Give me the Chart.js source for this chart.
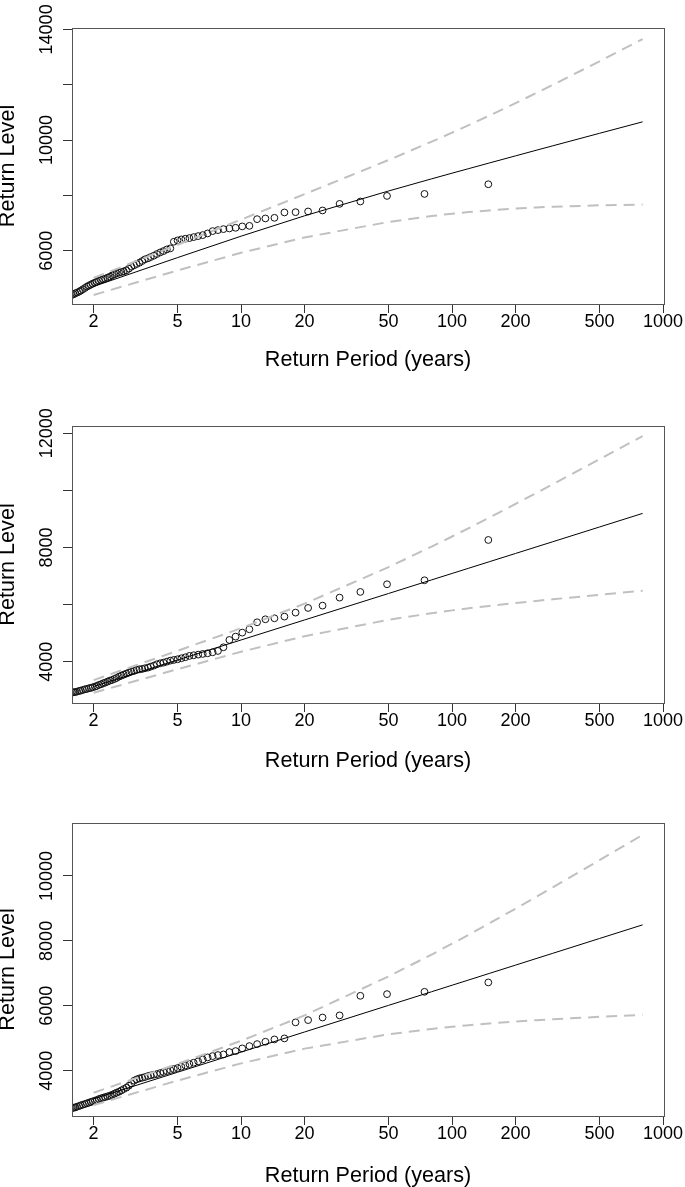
<!DOCTYPE html>
<html>
<head>
<meta charset="utf-8">
<script src="https://cdn.jsdelivr.net/npm/chart.js@4.4.1/dist/chart.umd.min.js"></script>
<style>
  body { margin: 0; background: #fff; }
  #wrap { position: relative; width: 685px; height: 1187px; overflow: hidden; }
  canvas { position: absolute; left: 0; }
</style>
</head>
<body>
<div id="wrap">
  <canvas id="rl1" width="685" height="380" style="top:0px"></canvas>
  <canvas id="rl2" width="685" height="389" style="top:390px"></canvas>
  <canvas id="rl3" width="685" height="397" style="top:790px"></canvas>
</div>
<script>
// empirical return periods (years), same for all three stations
const periods = [1.51, 1.545, 1.58, 1.61, 1.64, 1.67, 1.71, 1.74, 1.78, 1.82, 1.86, 1.90, 1.94, 1.98,
  2.03, 2.07, 2.12, 2.17, 2.22, 2.27, 2.33, 2.39, 2.45, 2.51, 2.57, 2.64, 2.71, 2.78, 2.86, 2.94,
  3.02, 3.11, 3.20, 3.30, 3.40, 3.50, 3.62, 3.73, 3.86, 3.99, 4.14, 4.29, 4.45, 4.62, 4.80, 5.00,
  5.21, 5.44, 5.69, 5.96, 6.26, 6.58, 6.94, 7.33, 7.77, 8.25, 8.80, 9.42, 10.13, 10.95, 11.91,
  13.04, 14.39, 16.05, 18.12, 20.78, 24.33, 29.30, 36.75, 49.17, 74.00, 148.50];

// observed levels
const obs1 = [4360, 4380, 4404, 4428, 4464, 4488, 4524, 4560, 4608, 4656, 4704, 4740, 4776, 4812,
  4848, 4884, 4920, 4944, 4968, 4992, 5028, 5064, 5112, 5148, 5184, 5208, 5232, 5256, 5292, 5353,
  5425, 5473, 5521, 5569, 5629, 5689, 5725, 5773, 5821, 5881, 5941, 5989, 6049, 6085, 6326, 6374,
  6410, 6434, 6458, 6494, 6530, 6566, 6626, 6710, 6746, 6782, 6806, 6830, 6880, 6900, 7142,
  7168, 7190, 7384, 7395, 7420, 7456, 7694, 7780, 7982, 8054, 8404];
const obs2 = [2870, 2892, 2915, 2927, 2938, 2950, 2974, 2985, 3009, 3032, 3044, 3067, 3079, 3102,
  3125, 3149, 3184, 3207, 3242, 3265, 3301, 3336, 3359, 3394, 3429, 3476, 3511, 3546, 3581, 3616,
  3651, 3674, 3709, 3733, 3744, 3768, 3791, 3826, 3861, 3908, 3943, 3966, 4001, 4036, 4060, 4083,
  4118, 4153, 4200, 4223, 4246, 4270, 4293, 4328, 4375, 4503, 4760, 4877, 5017, 5134, 5379,
  5484, 5519, 5578, 5718, 5881, 5963, 6243, 6442, 6711, 6851, 8263];
const obs3 = [2800, 2821, 2842, 2862, 2873, 2893, 2914, 2934, 2955, 2975, 2996, 3016, 3037, 3057,
  3078, 3098, 3129, 3150, 3170, 3190, 3211, 3232, 3262, 3293, 3324, 3355, 3396, 3437, 3478, 3539,
  3611, 3693, 3734, 3765, 3785, 3806, 3837, 3857, 3878, 3898, 3929, 3960, 3991, 4021, 4052, 4083,
  4124, 4165, 4206, 4247, 4288, 4350, 4411, 4452, 4483, 4503, 4575, 4606, 4688, 4760, 4821,
  4893, 4965, 4996, 5490, 5560, 5640, 5705, 6308, 6360, 6431, 6720];

// fitted return levels and 95% bounds
const rlPeriods = [2, 5, 10, 20, 50, 80, 100, 120, 150, 200, 250, 300, 500, 800];
const fit1 = [4710, 5753, 6527, 7264, 8160, 8599, 8804, 8969, 9171, 9430, 9630, 9792, 10245, 10659];
const upper1 = [5016, 6218, 7127, 8045, 9279, 9942, 10268, 10540, 10883, 11336, 11696, 11994, 12847, 13649];
const lower1 = [4404, 5288, 5927, 6483, 7041, 7256, 7340, 7398, 7459, 7524, 7564, 7590, 7643, 7669];
const fit2 = [3131, 4058, 4759, 5461, 6388, 6864, 7090, 7274, 7500, 7791, 8017, 8201, 8718, 9194];
const upper2 = [3353, 4380, 5171, 6032, 7310, 8031, 8384, 8679, 9047, 9528, 9906, 10217, 11093, 11904];
const lower2 = [2909, 3736, 4347, 4890, 5466, 5697, 5796, 5869, 5953, 6054, 6128, 6185, 6343, 6484];
const fit3 = [3134, 3954, 4574, 5194, 6014, 6434, 6634, 6797, 6997, 7254, 7454, 7617, 8074, 8494];
const upper3 = [3323, 4211, 4921, 5707, 6905, 7580, 7914, 8191, 8539, 8993, 9352, 9648, 10487, 11266];
const lower3 = [2945, 3697, 4227, 4681, 5123, 5288, 5355, 5403, 5455, 5515, 5556, 5586, 5661, 5722];

// axes
const xTicks = [2, 5, 10, 20, 50, 100, 200, 500, 1000];
const yTicks1 = [6000, 8000, 10000, 12000, 14000];
const yLabels1 = [6000, 10000, 14000];
const yTicks2 = [4000, 6000, 8000, 10000, 12000];
const yLabels2 = [4000, 8000, 12000];
const yTicks3 = [4000, 6000, 8000, 10000];
const yLabels3 = [4000, 6000, 8000, 10000];

const FONT = "'Liberation Sans', Arial, Helvetica, sans-serif";

function pairs(xs, ys) {
    return xs.map((x, i) => ({x: x, y: ys[i]}));
}

// R style box around the plot region
const boxPlugin = {
    id: 'box',
    afterDraw(chart) {
        const a = chart.chartArea, ctx = chart.ctx;
        ctx.save();
        ctx.strokeStyle = '#555';
        ctx.lineWidth = 1;
        ctx.strokeRect(Math.round(a.left) + 0.5, Math.round(a.top) + 0.5,
            Math.round(a.right - a.left), Math.round(a.bottom - a.top));
        ctx.restore();
    }
};

function rlChart(id, p) {
    new Chart(document.getElementById(id), {
        type: 'scatter',
        data: {
            datasets: [
                {
                    data: pairs(rlPeriods, p.fit),
                    showLine: true, borderColor: '#000', borderWidth: 1,
                    pointRadius: 0, clip: 0
                },
                {
                    data: pairs(rlPeriods, p.upper),
                    showLine: true, borderColor: '#c0c0c0', borderWidth: 2,
                    borderDash: [11, 7], pointRadius: 0, clip: 0
                },
                {
                    data: pairs(rlPeriods, p.lower),
                    showLine: true, borderColor: '#c0c0c0', borderWidth: 2,
                    borderDash: [11, 7], pointRadius: 0, clip: 0
                },
                {
                    data: pairs(periods, p.obs),
                    pointStyle: 'circle', pointRadius: 3.4, borderWidth: 1,
                    borderColor: '#111', backgroundColor: 'rgba(0,0,0,0)', clip: 0
                }
            ]
        },
        options: {
            responsive: false,
            animation: false,
            events: [],
            layout: { padding: { top: p.padTop, right: 21, bottom: 0, left: 0 } },
            plugins: { legend: { display: false }, tooltip: { enabled: false } },
            scales: {
                x: {
                    type: 'logarithmic',
                    min: 1.58,
                    max: 1010,
                    afterBuildTicks: s => { s.ticks = xTicks.map(v => ({value: v})); },
                    afterFit: s => { s.height = p.xHeight; s.paddingLeft = 0; s.paddingRight = 0; },
                    border: { display: false },
                    grid: { drawOnChartArea: false, tickLength: 9, color: '#333', tickColor: '#333' },
                    ticks: {
                        padding: -2, maxRotation: 0, autoSkip: false,
                        color: '#000', font: { family: FONT, size: 18 },
                        callback: v => String(v)
                    },
                    title: {
                        display: true, text: 'Return Period (years)', color: '#000',
                        font: { family: FONT, size: 21.6 },
                        padding: { top: 0, bottom: p.xTitlePad }
                    }
                },
                y: {
                    min: p.yMin,
                    max: p.yMax,
                    afterBuildTicks: s => { s.ticks = p.yTicks.map(v => ({value: v})); },
                    afterFit: s => { s.width = 72; s.paddingTop = 0; s.paddingBottom = 0; },
                    border: { display: false },
                    grid: { drawOnChartArea: false, tickLength: 9, color: '#333', tickColor: '#333' },
                    ticks: {
                        minRotation: 90, maxRotation: 90, crossAlign: 'center', padding: -9.5,
                        autoSkip: false, color: '#000', font: { family: FONT, size: 18 },
                        callback: v => p.yLabels.includes(v) ? String(v) : ''
                    },
                    title: {
                        display: true, text: 'Return Level', color: '#000',
                        font: { family: FONT, size: 21.6 },
                        padding: { top: -5, bottom: 0 }
                    }
                }
            }
        },
        plugins: [boxPlugin]
    });
}

rlChart('rl1', {
    obs: obs1, fit: fit1, upper: upper1, lower: lower1,
    yMin: 4076, yMax: 14050, yTicks: yTicks1, yLabels: yLabels1,
    padTop: 28, xHeight: 76, xTitlePad: 7
});
rlChart('rl2', {
    obs: obs2, fit: fit2, upper: upper2, lower: lower2,
    yMin: 2551, yMax: 12256, yTicks: yTicks2, yLabels: yLabels2,
    padTop: 36, xHeight: 76, xTitlePad: 5
});
rlChart('rl3', {
    obs: obs3, fit: fit3, upper: upper3, lower: lower3,
    yMin: 2606, yMax: 11631, yTicks: yTicks3, yLabels: yLabels3,
    padTop: 33, xHeight: 71, xTitlePad: -2
});
</script>
</body>
</html>
